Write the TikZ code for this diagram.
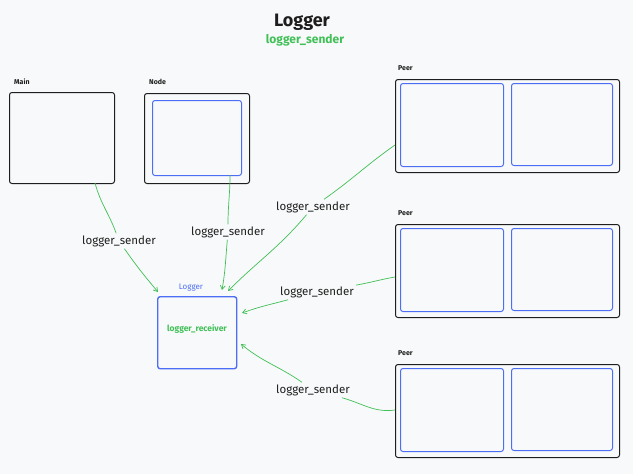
\documentclass[tikz,border=0pt]{standalone}
\usepackage{fontspec}
\setmainfont{Fira Sans}
\usetikzlibrary{arrows.meta}

\definecolor{bg}{RGB}{248,249,250}
\definecolor{ink}{RGB}{30,30,30}
\definecolor{sendgreen}{RGB}{64,192,87}
\definecolor{boxblue}{RGB}{76,110,245}

\tikzset{
  outerbox/.style={draw=ink, line width=1pt, rounded corners=2.5pt, anchor=north west, inner sep=0pt},
  innerbox/.style={draw=boxblue, line width=1pt, rounded corners=2.5pt, anchor=north west, inner sep=0pt},
  tag/.style={font=\fontsize{7}{8}\selectfont\bfseries, text=ink, anchor=west, inner sep=0pt},
  sender/.style={draw=sendgreen, line width=0.7pt, -{Straight Barb[length=4pt,width=5pt]}},
  sendlabel/.style={fill=bg, font=\fontsize{11.5}{13}\selectfont, text=ink, inner sep=2pt}
}

\begin{document}
\begin{tikzpicture}[x=1pt,y=-1pt]

\fill[bg] (0,0) rectangle (633,474);
\useasboundingbox (0,0) rectangle (633,474);

% title
\node[font=\fontsize{18}{20}\selectfont\bfseries, text=ink] (title) at (302,22) {Logger};
\node[font=\fontsize{12}{13}\selectfont\bfseries, text=sendgreen] (subtitle) at (305,40) {logger\_sender};

% main and node
\node[tag] (maintag) at (14,82) {Main};
\node[outerbox, minimum width=105pt, minimum height=91pt] (main) at (9,92) {};
\node[tag] (nodetag) at (149,82) {Node};
\node[outerbox, minimum width=105pt, minimum height=90pt] (node) at (144,93) {};
\node[innerbox, minimum width=89pt, minimum height=75pt] (nodein) at (152,100) {};

% logger
\node[font=\fontsize{8}{9}\selectfont, text=boxblue] (loggertag) at (191,288) {Logger};
\node[draw=boxblue, line width=1.4pt, rounded corners=2.5pt, anchor=north west,
      minimum width=79pt, minimum height=72pt, inner sep=0pt] (logger) at (157,296) {};
\node[font=\fontsize{8.5}{9}\selectfont\bfseries, text=sendgreen] (receiver) at (197,329) {logger\_receiver};

% peers
\foreach \i/\y in {1/79, 2/224, 3/364}{
  \node[tag] (peertag\i) at (398,\y-11) {Peer};
  \node[outerbox, minimum width=224pt, minimum height=93pt] (peer\i) at (395,\y) {};
  \node[innerbox, minimum width=103pt, minimum height=83pt] (peer\i a) at (400,\y+4) {};
  \node[innerbox, minimum width=101pt, minimum height=82pt] (peer\i b) at (511,\y+4) {};
}

% connector ends
\coordinate (mainout) at (95,183);
\coordinate (nodeout) at (230,175);
\coordinate (peerout1) at (395,145);
\coordinate (peerout2) at (395,277);
\coordinate (peerout3) at (395,410);
\coordinate (in1) at (158,292);
\coordinate (in2) at (222,290);
\coordinate (in3) at (228,291);
\coordinate (in4) at (242,313);
\coordinate (in5) at (241,344);

% labels
\node[sendlabel] (lab1) at (119,241) {logger\_sender};
\node[sendlabel] (lab2) at (228,232) {logger\_sender};
\node[sendlabel] (lab3) at (313,207) {logger\_sender};
\node[sendlabel] (lab4) at (317,292) {logger\_sender};
\node[sendlabel] (lab5) at (313,390) {logger\_sender};

% senders
\draw[sender] (mainout) to[out=-75,in=110] (lab1) to[out=-55,in=130] (in1);
\draw[sender] (nodeout) to[out=-90,in=90] (lab2) to[out=-95,in=80] (in2);
\draw[sender] (peerout1) to[out=215,in=35] (lab3) to[out=-130,in=45] (in3);
\draw[sender] (peerout2) to[out=190,in=10] (lab4) to[out=195,in=20] (in4);
\draw[sender] (peerout3) to[out=188,in=-15] (lab5) to[out=145,in=-40] (in5);

\end{tikzpicture}
\end{document}
